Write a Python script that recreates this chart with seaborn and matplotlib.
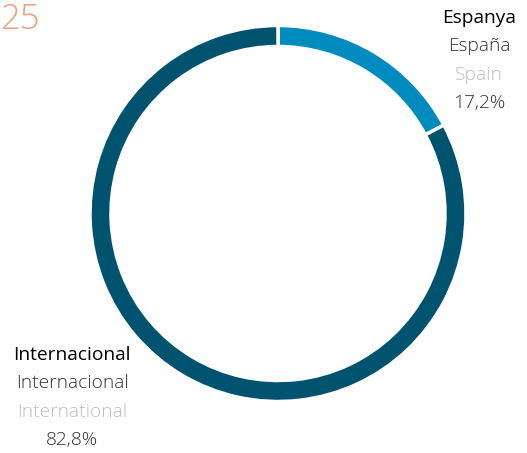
import matplotlib
matplotlib.use("Agg")
import matplotlib.pyplot as plt
import seaborn as sns

# data
regions = ["Espanya", "Internacional"]
regions_es = ["España", "Internacional"]
regions_en = ["Spain", "International"]
shares = [17.2, 82.8]
share_labels = ["17,2%", "82,8%"]
colors = ["#008BBE", "#00536F"]

sns.set_theme(style="white")
plt.rcParams['font.family'] = ['Open Sans', 'DejaVu Sans']

W, H = 527, 453
fig = plt.figure(figsize=(W / 100, H / 100), dpi=100)
ax = fig.add_axes([0, 0, 1, 1])

ax.pie(shares, colors=colors, startangle=90, counterclock=False,
       center=(278, H - 213.5), radius=188,
       wedgeprops=dict(width=21, edgecolor="white", linewidth=2.5))

ax.set_xlim(0, W)
ax.set_ylim(0, H)
ax.set_aspect("equal")
ax.axis("off")

# big number in corner
ax.text(0, H - 20, "25", color="#F0A07E", fontsize=25, fontweight="light",
        ha="left", va="center")

# label blocks
label_pos = [(479, 18), (72, 355)]
for i, (x, y) in enumerate(label_pos):
    lines = [(regions[i], "#000000", "normal"),
             (regions_es[i], "#333333", "light"),
             (regions_en[i], "#BDBDBD", "light"),
             (share_labels[i], "#333333", "light")]
    for j, (txt, c, w) in enumerate(lines):
        ax.text(x, H - (y + j * 28.4), txt, color=c, fontsize=13.8,
                fontweight=w, ha="center", va="center")

fig.savefig("out.png", dpi=100)
